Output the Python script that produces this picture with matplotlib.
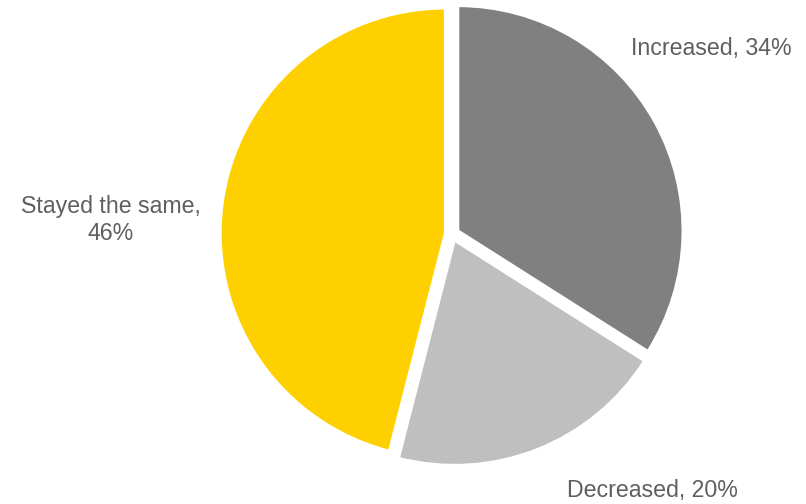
import matplotlib.pyplot as plt

labels = ["Increased", "Decreased", "Stayed the same"]
values = [34, 20, 46]
colors = ["#808080", "#BFBFBF", "#FFD000"]

# pixel geometry of the reference
W, H = 806, 504
R_PX = 225.0
CX, CY = 452.0, 234.0

plt.rcParams["font.family"] = ["Liberation Sans", "DejaVu Sans"]

fig = plt.figure(figsize=(W / 100, H / 100), dpi=100)
ax = fig.add_axes([0, 0, 1, 1])

ax.pie(values, colors=colors, startangle=90, counterclock=False,
       explode=[0.03] * len(values), radius=1.0,
       wedgeprops=dict(edgecolor="white", linewidth=2))

ax.set_xlim(-CX / R_PX, (W - CX) / R_PX)
ax.set_ylim(-(H - CY) / R_PX, CY / R_PX)
ax.set_aspect("equal")
ax.axis("off")

text_color = "#5f5f5f"
label_pos = [(711, 48), (652, 490), (111, 220)]
texts = ["Increased, 34%", "Decreased, 20%", "Stayed the same,\n46%"]
for (px, py), t in zip(label_pos, texts):
    fig.text(px / W, 1 - py / H, t, ha="center", va="center",
             fontsize=16.7, color=text_color, linespacing=1.25)

fig.savefig("out.png", dpi=100)
